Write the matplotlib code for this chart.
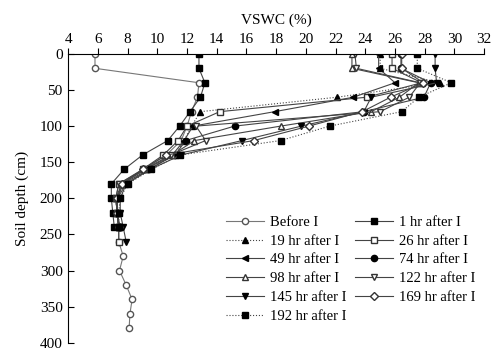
import matplotlib.pyplot as plt

plt.rcParams['font.family'] = ['Liberation Serif', 'DejaVu Serif']

# profondeurs (cm)
depth = [0, 20, 40, 60, 80, 100, 120, 140, 160, 180, 200, 220, 240]
depth_before = [0, 20, 40, 60, 80, 100, 120, 140, 160, 180, 200, 220, 240,
                260, 280, 300, 320, 340, 360, 380]
depth_long = depth + [260]

# VSWC (%) par serie
before = [5.8, 5.8, 12.8, 12.7, 12.3, 12.0, 11.6, 10.6, 9.1, 7.6, 7.3, 7.3, 7.4,
          7.4, 7.7, 7.45, 7.9, 8.3, 8.15, 8.1]
h1 = [12.8, 12.8, 13.2, 12.9, 12.2, 11.5, 10.7, 9.0, 7.75, 6.9, 6.9, 7.0, 7.1]
h19 = [25.0, 25.0, 29.0, 22.1, 12.9, 12.3, 11.8, 11.2, 9.3, 7.8, 7.2, 7.3, 7.4]
h26 = [25.8, 25.8, 27.8, 24.1, 14.2, 12.0, 11.4, 10.4, 9.0, 7.4, 7.2, 7.3, 7.4, 7.4]
h49 = [24.9, 24.9, 26.0, 23.2, 17.9, 12.4, 11.8, 11.0, 9.5, 7.9, 7.3, 7.3, 7.4]
h74 = [26.4, 26.4, 28.4, 27.95, 23.9, 15.2, 11.9, 11.2, 9.4, 7.7, 7.3, 7.3, 7.5]
h98 = [23.1, 23.1, 27.6, 26.3, 24.4, 18.3, 12.5, 11.0, 9.2, 7.6, 7.2, 7.3, 7.4]
h122 = [23.3, 23.4, 27.7, 26.96, 25.0, 12.6, 13.25, 10.9, 9.1, 7.4, 7.2, 7.3, 7.4]
h145 = [28.7, 28.7, 28.8, 24.4, 23.9, 19.7, 15.7, 11.6, 9.5, 7.9, 7.5, 7.5, 7.7, 7.9]
h169 = [26.45, 26.45, 27.9, 25.7, 23.8, 20.2, 16.5, 10.6, 9.0, 7.6, 7.3, 7.3, 7.4]
h192 = [27.5, 27.5, 29.8, 27.6, 26.45, 21.6, 18.3, 11.5, 9.6, 8.0, 7.5, 7.4, 7.4]

fig = plt.figure(figsize=(4.91, 3.52), dpi=100)
ax = fig.add_axes([0.139, 0.026, 0.847, 0.821])

lc = '#444444'
ms = 4.5

ax.plot(before, depth_before, '-o', color='#777777', mfc='white', mec='#555555', ms=ms, lw=0.8, label='Before I')
ax.plot(h1, depth, '-s', color=lc, mfc='black', mec='black', ms=ms, lw=0.8, label='1 hr after I')
ax.plot(h19, depth, ':^', color=lc, mfc='black', mec='black', ms=ms, lw=0.8, label='19 hr after I')
ax.plot(h26, depth_long, '-s', color=lc, mfc='white', mec='#333333', ms=ms, lw=0.8, label='26 hr after I')
ax.plot(h49, depth, '-<', color=lc, mfc='black', mec='black', ms=ms, lw=0.8, label='49 hr after I')
ax.plot(h74, depth, '-o', color=lc, mfc='black', mec='black', ms=ms, lw=0.8, label='74 hr after I')
ax.plot(h98, depth, '-^', color=lc, mfc='white', mec='#333333', ms=ms, lw=0.8, label='98 hr after I')
ax.plot(h122, depth, '-v', color=lc, mfc='white', mec='#333333', ms=ms, lw=0.8, label='122 hr after I')
ax.plot(h145, depth_long, '-v', color=lc, mfc='black', mec='black', ms=ms, lw=0.8, label='145 hr after I')
ax.plot(h169, depth, '-D', color=lc, mfc='white', mec='#333333', ms=ms - 0.5, lw=0.8, label='169 hr after I')
ax.plot(h192, depth, ':s', color=lc, mfc='black', mec='black', ms=ms, lw=0.8, label='192 hr after I')

ax.set_xlim(4, 32)
ax.set_ylim(400, 0)
ax.set_xticks(range(4, 33, 2))
ax.set_yticks(range(0, 401, 50))
ax.xaxis.tick_top()
ax.xaxis.set_label_position('top')
ax.set_xlabel('VSWC (%)', fontsize=11, labelpad=6)
ax.set_ylabel('Soil depth (cm)', fontsize=11, labelpad=8)
ax.tick_params(axis='x', direction='out', length=4, labelsize=11, pad=2)
ax.tick_params(axis='y', direction='in', length=4, labelsize=11, pad=4)
ax.spines['right'].set_visible(False)
ax.spines['bottom'].set_visible(False)

# legende remplie ligne par ligne comme l'original
handles, labels = ax.get_legend_handles_labels()
order = [0, 2, 4, 6, 8, 10, 1, 3, 5, 7, 9]
ax.legend([handles[i] for i in order], [labels[i] for i in order],
          ncol=2, loc='upper left', bbox_to_anchor=(0.365, 0.46), frameon=False,
          fontsize=10.5, handlelength=2.6, handletextpad=0.4, columnspacing=0.6,
          labelspacing=0.38, borderaxespad=0)

fig.savefig('out.png', dpi=100)
